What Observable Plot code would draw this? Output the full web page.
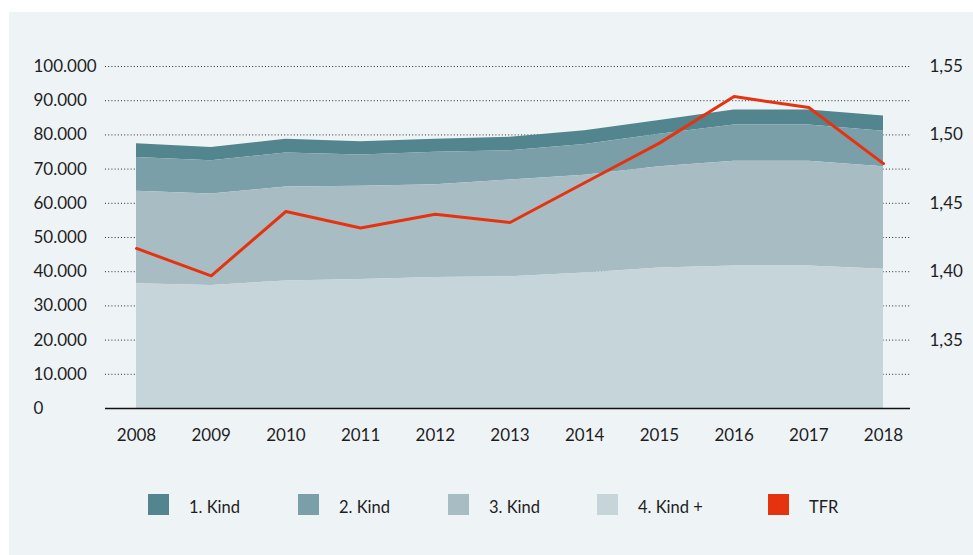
<!DOCTYPE html>
<html><head><meta charset="utf-8">
<script src="https://cdn.jsdelivr.net/npm/d3@7"></script>
<script src="https://cdn.jsdelivr.net/npm/@observablehq/plot@0.6"></script>
<style>
body{margin:0;background:#fff;font-family:Lato,"Open Sans",sans-serif;}
#panel{position:absolute;left:9px;top:12px;width:964px;height:543px;background:#eef3f6;overflow:hidden;}
#chart{position:absolute;left:0;top:0;}
.lg{position:absolute;top:482px;height:21px;display:flex;align-items:center;font-size:16.5px;color:#1e1e1e;white-space:nowrap;}
.lg .sw{width:21px;height:21px;display:inline-block;}
.lg .tx{position:absolute;top:3px;}
</style></head>
<body>
<div id="panel"><div id="chart"></div></div>
<script>
const years = [2008, 2009, 2010, 2011, 2012, 2013, 2014, 2015, 2016, 2017, 2018];
const kind1 = [4000, 3850, 4000, 3900, 3800, 3900, 4000, 4000, 4400, 4400, 4400];
const kind2 = [9900, 9750, 9900, 9100, 9500, 8600, 9000, 9500, 10600, 10600, 10400];
const kind3 = [27000, 26700, 27500, 27300, 27100, 28300, 28600, 29600, 30600, 30600, 30000];
const kind4 = [36500, 36000, 37300, 37700, 38300, 38500, 39600, 41100, 41700, 41700, 40700];
const tfr = [1.417, 1.397, 1.444, 1.432, 1.442, 1.436, 1.465, 1.494, 1.528, 1.520, 1.479];
const seriesNames = ["1. Kind", "2. Kind", "3. Kind", "4. Kind +"];
const tfrName = "TFR";
const leftTicks = [0, 10000, 20000, 30000, 40000, 50000, 60000, 70000, 80000, 90000, 100000];
const rightTicks = [1.35, 1.40, 1.45, 1.50, 1.55];
const rightDomain = [1.30, 1.55];

const colors = ["#52858e", "#7b9fa8", "#a7bdc3", "#c6d5da"];
const tfrColor = "#e6330f";

const seriesValues = [kind1, kind2, kind3, kind4];
const long = [];
seriesNames.forEach((s, si) => years.forEach((y, i) => long.push({year: y, series: s, value: seriesValues[si][i]})));
const stackOrder = ["4. Kind +", "3. Kind", "2. Kind", "1. Kind"];

const toLeft = t => (t - rightDomain[0]) / (rightDomain[1] - rightDomain[0]) * 100000;
const fromLeft = v => v / 100000 * (rightDomain[1] - rightDomain[0]) + rightDomain[0];
const tfrRows = years.map((y, i) => ({year: y, v: toLeft(tfr[i])}));

const fmtLeft = d => d3.format(",")(d).replace(/,/g, ".");
const fmtRight = d => fromLeft(d).toFixed(2).replace(".", ",");

const chart = Plot.plot({
  width: 964, height: 450,
  marginLeft: 96, marginRight: 63, marginTop: 54, marginBottom: 54,
  style: {background: "transparent", fontFamily: "Lato, 'Open Sans', sans-serif", fontSize: "17px", color: "#1e1e1e"},
  x: {domain: [2008, 2018], insetLeft: 31, insetRight: 27, label: null},
  y: {domain: [0, 100000], label: null},
  color: {domain: seriesNames, range: colors},
  marks: [
    Plot.ruleY(leftTicks.filter(d => d > 0), {stroke: "#2a2a2a", strokeWidth: 1, strokeDasharray: "1 2.2"}),
    Plot.areaY(long, {x: "year", y: "value", fill: "series", order: stackOrder}),
    Plot.ruleY([0], {stroke: "#111", strokeWidth: 1.5}),
    Plot.lineY(tfrRows, {x: "year", y: "v", stroke: tfrColor, strokeWidth: 3}),
    Plot.axisY(leftTicks, {anchor: "left", tickSize: 0, tickPadding: 72, textAnchor: "start", tickFormat: fmtLeft, label: null}),
    Plot.axisY(rightTicks.map(toLeft), {anchor: "right", tickSize: 0, tickPadding: 19, tickFormat: fmtRight, label: null}),
    Plot.axisX(years, {tickSize: 0, tickPadding: 20, tickFormat: d => String(d), label: null})
  ]
});
document.getElementById("chart").appendChild(chart);

const panel = document.getElementById("panel");
const legendX = [139, 289, 439, 588, 759];
const legendItems = seriesNames.map((s, i) => ({name: s, color: colors[i]})).concat([{name: tfrName, color: tfrColor}]);
legendItems.forEach((it, i) => {
  const d = document.createElement("div");
  d.className = "lg";
  d.style.left = legendX[i] + "px";
  const sw = document.createElement("span");
  sw.className = "sw"; sw.style.background = it.color;
  const tx = document.createElement("span");
  tx.className = "tx"; tx.textContent = it.name;
  tx.style.left = "41px";
  d.appendChild(sw); d.appendChild(tx);
  panel.appendChild(d);
});
</script>
</body></html>
